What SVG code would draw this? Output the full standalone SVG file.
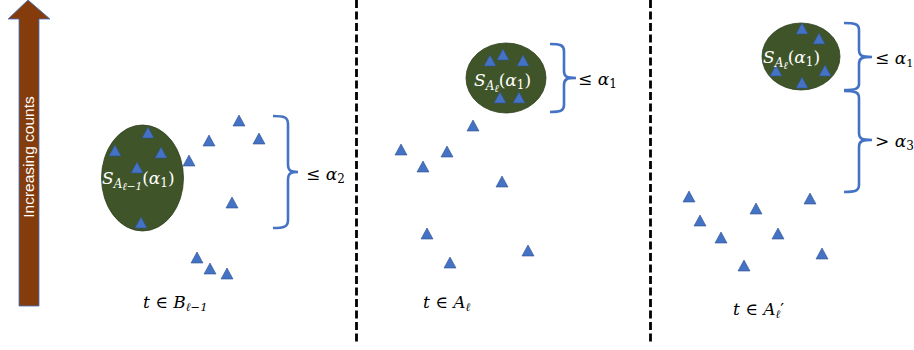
<svg xmlns="http://www.w3.org/2000/svg" width="914" height="350" viewBox="0 0 914 350">
<style>
.m{font-family:"DejaVu Serif","Liberation Serif",serif;font-size:17px;fill:#000}
.w{fill:#fff}
.i{font-style:italic}
.tri{fill:#4472C4;stroke:#2F528F;stroke-width:0.6}
.blob{fill:#3F5529;stroke:#2F3F1E;stroke-width:0.8}
.brace{fill:none;stroke:#4472C4;stroke-width:2.6}
.dash{stroke:#000;stroke-width:2.8;stroke-dasharray:8 3.5}
</style>
<defs>
<path id="t" class="tri" d="M0,0 L6,11 L-6,11 Z"/>
</defs>
<rect width="914" height="350" fill="#fff"/>

<g id="axis-arrow">
<path d="M28,0 L50,19 L39,19 L39,306 L19,306 L19,19 L8,19 Z" fill="#843C0C" stroke="#4472C4" stroke-width="0.8"/>
<text x="0" y="0" transform="translate(34,157) rotate(-90)" text-anchor="middle" font-family="Liberation Sans, Arial, sans-serif" font-size="15.5" fill="#fff">Increasing counts</text>
</g>

<g id="separators">
<line class="dash" x1="356.5" y1="0" x2="356.5" y2="343"/>
<line class="dash" x1="650.5" y1="0" x2="650.5" y2="345"/>
</g>

<g id="panel-B">
<ellipse class="blob" cx="142.5" cy="178" rx="41" ry="53"/>
<use href="#t" x="148" y="127"/><use href="#t" x="115" y="145"/><use href="#t" x="161" y="147"/>
<use href="#t" x="137" y="162"/><use href="#t" x="141" y="217"/><use href="#t" x="189" y="155"/>
<use href="#t" x="209" y="135"/><use href="#t" x="239" y="115"/><use href="#t" x="259" y="133"/>
<use href="#t" x="232" y="197"/><use href="#t" x="197" y="252"/><use href="#t" x="210" y="263"/>
<use href="#t" x="227" y="268"/>
<text class="m w" x="102" y="184" font-size="17.5"><tspan class="i">S</tspan><tspan class="i" font-size="12" dy="4">A</tspan><tspan class="i" font-size="10.5" dy="2">ℓ−1</tspan><tspan dy="-6">(</tspan><tspan class="i">α</tspan><tspan font-size="12" dy="3">1</tspan><tspan dy="-3">)</tspan></text>
<path class="brace" d="M273,116 C284,116 288,117 288,124 L288,164 C288,171 291,172 298,172 C291,172 288,173 288,180 L288,220 C288,227 284,228 273,228"/>
<text class="m" x="306" y="180">≤ <tspan class="i">α</tspan><tspan font-size="12" dy="3">2</tspan></text>
<text class="m" x="143" y="308"><tspan class="i">t</tspan> ∈ <tspan class="i">B</tspan><tspan class="i" font-size="11.5" dy="3">ℓ−1</tspan></text>
</g>

<g id="panel-A">
<ellipse class="blob" cx="506" cy="78" rx="40" ry="35"/>
<use href="#t" x="490" y="55"/><use href="#t" x="503" y="49"/><use href="#t" x="523" y="55"/>
<use href="#t" x="500" y="92"/><use href="#t" x="519" y="92"/><use href="#t" x="473" y="120"/>
<use href="#t" x="401" y="144"/><use href="#t" x="447" y="146"/><use href="#t" x="423" y="161"/>
<use href="#t" x="502" y="176"/><use href="#t" x="427" y="228"/><use href="#t" x="528" y="245"/>
<use href="#t" x="450" y="257"/>
<text class="m w" x="474" y="86"><tspan class="i">S</tspan><tspan class="i" font-size="12" dy="4">A</tspan><tspan class="i" font-size="10.5" dy="2">ℓ</tspan><tspan dy="-6">(</tspan><tspan class="i">α</tspan><tspan font-size="12" dy="3">1</tspan><tspan dy="-3">)</tspan></text>
<path class="brace" d="M550,44 C560,44 564,45 564,51 L564,71 C564,77 567,78 576,78 C567,78 564,79 564,85 L564,105 C564,111 560,112 550,112"/>
<text class="m" x="578" y="85">≤ <tspan class="i">α</tspan><tspan font-size="12" dy="3">1</tspan></text>
<text class="m" x="423" y="308"><tspan class="i">t</tspan> ∈ <tspan class="i">A</tspan><tspan class="i" font-size="11.5" dy="3">ℓ</tspan></text>
</g>

<g id="panel-A-prime">
<ellipse class="blob" cx="801" cy="56.5" rx="39" ry="33.5"/>
<use href="#t" x="802" y="23"/><use href="#t" x="819" y="33"/><use href="#t" x="776" y="65"/>
<use href="#t" x="825" y="65"/><use href="#t" x="802" y="77"/><use href="#t" x="689" y="191"/>
<use href="#t" x="810" y="193"/><use href="#t" x="756" y="203"/><use href="#t" x="700" y="215"/>
<use href="#t" x="778" y="228"/><use href="#t" x="721" y="232"/><use href="#t" x="822" y="248"/>
<use href="#t" x="744" y="260"/>
<text class="m w" x="763" y="63"><tspan class="i">S</tspan><tspan class="i" font-size="12" dy="4">A</tspan><tspan class="i" font-size="10.5" dy="2">ℓ</tspan><tspan dy="-6">(</tspan><tspan class="i">α</tspan><tspan font-size="12" dy="3">1</tspan><tspan dy="-3">)</tspan></text>
<path class="brace" d="M844,23 C855,23 859,24 859,30 L859,50 C859,56 862,57 872,57 C862,57 859,58 859,64 L859,84 C859,89 855,90 844,90"/>
<path class="brace" d="M844,91 C855,91 859,92 859,98 L859,133 C859,139 862,140 872,140 C862,140 859,141 859,147 L859,185 C859,191 855,192 844,192"/>
<text class="m" x="875" y="64" font-size="16">≤ <tspan class="i">α</tspan><tspan font-size="11.5" dy="3">1</tspan></text>
<text class="m" x="875" y="147">&gt; <tspan class="i">α</tspan><tspan font-size="12" dy="3">3</tspan></text>
<text class="m" x="733" y="315"><tspan class="i">t</tspan> ∈ <tspan class="i">A</tspan><tspan class="i" font-size="11.5" dy="3">ℓ</tspan><tspan dy="-3">′</tspan></text>
</g>
</svg>
